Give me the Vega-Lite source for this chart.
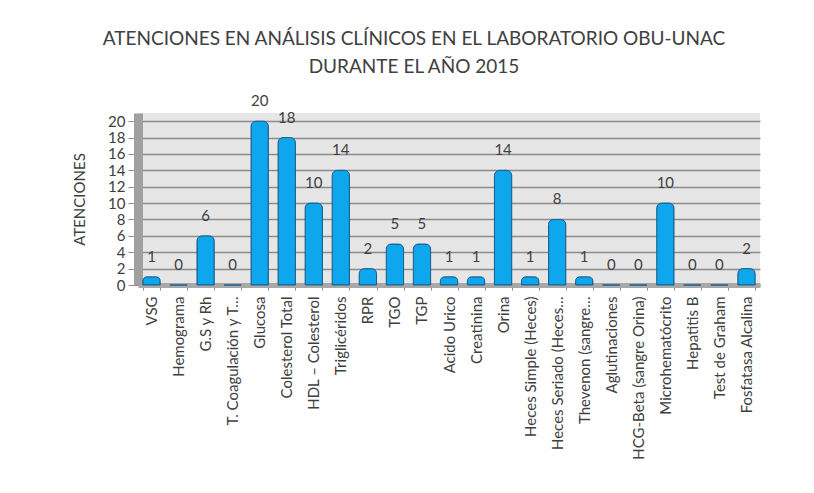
{
  "$schema": "https://vega.github.io/schema/vega-lite/v6.json",
  "width": 622,
  "height": 172,
  "autosize": {"type": "none"},
  "padding": {"left": 138, "top": 113, "right": 54, "bottom": 208},
  "background": "#ffffff",
  "title": {
    "text": ["ATENCIONES EN ANÁLISIS CLÍNICOS EN EL LABORATORIO OBU-UNAC", "DURANTE EL AÑO 2015"],
    "font": "Lato",
    "fontSize": 19,
    "fontWeight": "normal",
    "color": "#404040",
    "anchor": "middle",
    "frame": "group",
    "dx": -35,
    "offset": 17,
    "lineHeight": 28
  },
  "data": {
    "values": [
      {"examen": "VSG", "atenciones": 1},
      {"examen": "Hemograma", "atenciones": 0},
      {"examen": "G.S y Rh", "atenciones": 6},
      {"examen": "T. Coagulación y T…", "atenciones": 0},
      {"examen": "Glucosa", "atenciones": 20},
      {"examen": "Colesterol Total", "atenciones": 18},
      {"examen": "HDL – Colesterol", "atenciones": 10},
      {"examen": "Triglicéridos", "atenciones": 14},
      {"examen": "RPR", "atenciones": 2},
      {"examen": "TGO", "atenciones": 5},
      {"examen": "TGP", "atenciones": 5},
      {"examen": "Acido Urico", "atenciones": 1},
      {"examen": "Creatinina", "atenciones": 1},
      {"examen": "Orina", "atenciones": 14},
      {"examen": "Heces Simple (Heces)", "atenciones": 1},
      {"examen": "Heces Seriado (Heces…", "atenciones": 8},
      {"examen": "Thevenon (sangre…", "atenciones": 1},
      {"examen": "Aglutinaciones", "atenciones": 0},
      {"examen": "HCG-Beta (sangre Orina)", "atenciones": 0},
      {"examen": "Microhematócrito", "atenciones": 10},
      {"examen": "Hepatitis B", "atenciones": 0},
      {"examen": "Test de Graham", "atenciones": 0},
      {"examen": "Fosfatasa Alcalina", "atenciones": 2}
    ]
  },
  "encoding": {
    "x": {
      "field": "examen",
      "type": "nominal",
      "sort": null,
      "scale": {"paddingInner": 0.36, "paddingOuter": 0.18},
      "axis": {
        "title": null,
        "labelAngle": -90,
        "labelFont": "Lato",
        "labelFontSize": 15,
        "labelColor": "#404040",
        "labelPadding": 6,
        "labelLimit": 220,
        "tickBand": "extent",
        "tickColor": "#8c8c8c",
        "tickSize": 5,
        "domainColor": "#a8a8a8",
        "domainWidth": 5
      }
    },
    "y": {
      "field": "atenciones",
      "type": "quantitative",
      "scale": {"domain": [0, 21], "nice": false},
      "axis": {
        "title": "ATENCIONES",
        "titleFont": "Lato",
        "titleFontSize": 15,
        "titleFontWeight": "normal",
        "titleColor": "#404040",
        "titlePadding": 20,
        "values": [0, 2, 4, 6, 8, 10, 12, 14, 16, 18, 20],
        "labelFont": "Lato",
        "labelFontSize": 15,
        "labelColor": "#404040",
        "labelPadding": 3,
        "tickSize": 10,
        "tickColor": "#8c8c8c",
        "domainColor": "#a0a0a0",
        "domainWidth": 9,
        "grid": true,
        "gridColor": "#8c8c8c",
        "gridWidth": 1.5
      }
    }
  },
  "layer": [
    {
      "mark": {
        "type": "bar",
        "color": "#0ea6ec",
        "stroke": "#1a5f8e",
        "strokeWidth": 1,
        "cornerRadiusTopLeft": 5,
        "cornerRadiusTopRight": 5
      }
    },
    {
      "mark": {
        "type": "text",
        "baseline": "bottom",
        "dy": -12,
        "font": "Lato",
        "fontSize": 15,
        "color": "#404040"
      },
      "encoding": {"text": {"field": "atenciones", "type": "quantitative"}}
    }
  ],
  "config": {
    "view": {"fill": "#e6e6e6", "stroke": null}
  }
}
